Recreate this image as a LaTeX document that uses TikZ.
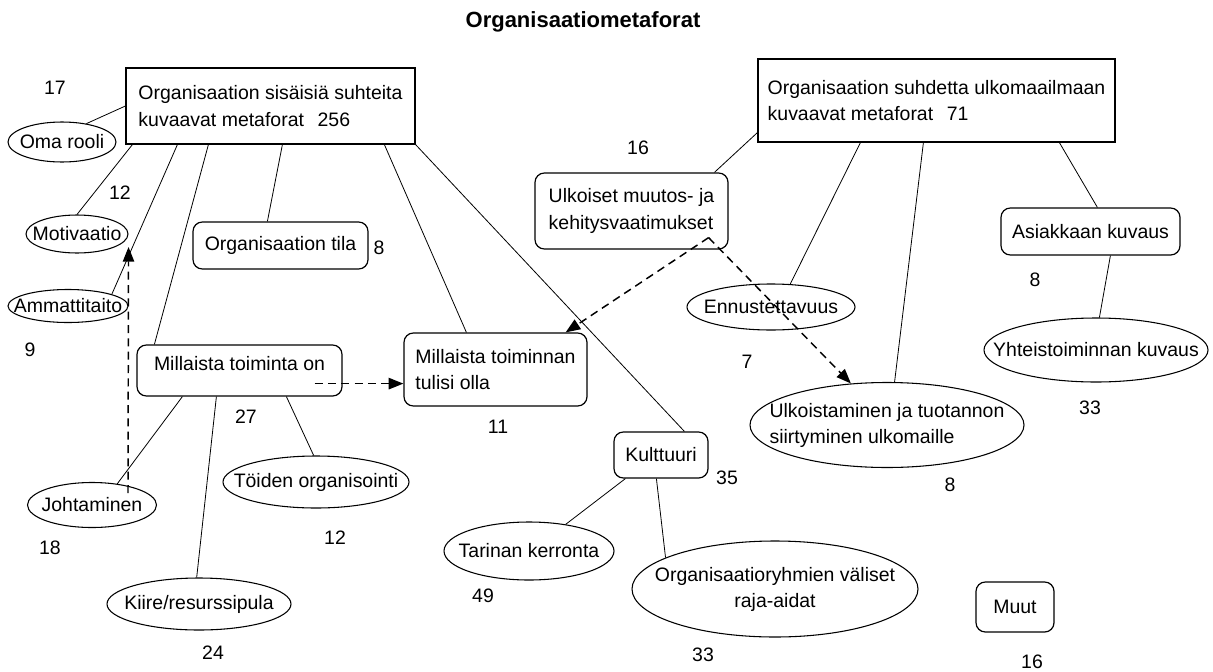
\documentclass[tikz,border=0pt]{standalone}
\usepackage{fontspec}
\setmainfont{Liberation Sans}
\usetikzlibrary{shapes.geometric, arrows.meta, calc}

\newcommand{\zw}[1]{\makebox[0pt]{#1}}

\begin{document}
\begin{tikzpicture}[x=0.75pt, y=-0.75pt,
	every node/.style={font=\fontsize{14.6pt}{20pt}\selectfont},
	sqbox/.style={draw, line width=0.9pt, inner sep=3pt},
	rbox/.style={draw, line width=0.9pt, rounded corners=7pt, inner sep=3pt},
	oval/.style={draw, ellipse, line width=0.8pt, inner sep=0pt},
	num/.style={inner sep=0pt},
	link/.style={line width=0.6pt},
	dlink/.style={line width=1.1pt, dash pattern=on 6pt off 4pt, -{Triangle[length=11pt,width=8.5pt]}}]
		
		\useasboundingbox (0,0) rectangle (1213,671);
		
		% Title
		\node[font=\fontsize{16.5pt}{20pt}\selectfont\bfseries] (title) at (583,22) {Organisaatiometaforat};
		
		% Main boxes
		\node[sqbox, minimum width=216.75pt, minimum height=57pt, align=left] (inner) at (270.5,106)
		{Organisaation sisäisiä suhteita\\kuvaavat metaforat\hspace{0.7em}256};
		\node[sqbox, minimum width=267.75pt, minimum height=62.25pt, align=left] (outer) at (936.5,100.5)
		{Organisaation suhdetta ulkomaailmaan\\kuvaavat metaforat\hspace{0.7em}71};
		
		% Inner relations
		\node[oval, minimum width=81pt, minimum height=30pt] (oma) at (62,142) {\zw{Oma rooli}};
		\node[oval, minimum width=76.5pt, minimum height=28.5pt] (motiv) at (77,234) {\zw{Motivaatio}};
		\node[oval, minimum width=90pt, minimum height=24.75pt] (ammat) at (68,306) {\zw{Ammattitaito}};
		\node[rbox, minimum width=131.25pt, minimum height=35.25pt] (tila) at (280.5,245.5) {Organisaation tila};
		\node[rbox, minimum width=153.75pt, minimum height=38.25pt, text depth=10pt] (onnyt) at (239.5,370.5) {Millaista toiminta on};
		\node[rbox, minimum width=137.25pt, minimum height=54.75pt, align=left] (pitaisi) at (495.5,369.5)
		{Millaista toiminnan\\tulisi olla};
		\node[oval, minimum width=96.75pt, minimum height=33.75pt] (johto) at (92,505) {\zw{Johtaminen}};
		\node[oval, minimum width=138pt, minimum height=39pt] (kiire) at (199,604) {\zw{Kiire/resurssipula}};
		\node[oval, minimum width=139.5pt, minimum height=39pt] (toiden) at (316,482) {\zw{Töiden organisointi}};
		\node[rbox, minimum width=70.5pt, minimum height=34.5pt] (kult) at (661,455) {Kulttuuri};
		\node[oval, minimum width=127.5pt, minimum height=43.5pt] (tarina) at (529,551) {\zw{Tarinan kerronta}};
		\node[oval, minimum width=214.5pt, minimum height=72pt] (raja) at (775,589)
		{\zw{\begin{tabular}{@{}c@{}}Organisaatioryhmien väliset\\raja-aidat\end{tabular}}};
		
		% Outer relations
		\node[rbox, minimum width=144.75pt, minimum height=57pt, align=left] (ulkoiset) at (631.5,211)
		{Ulkoiset muutos- ja\\kehitysvaatimukset};
		\node[oval, minimum width=126pt, minimum height=34.5pt] (ennust) at (771,307) {\zw{Ennustettavuus}};
		\node[oval, minimum width=205.5pt, minimum height=63.75pt] (ulkoist) at (887,425)
		{\zw{\begin{tabular}{@{}l@{}}Ulkoistaminen ja tuotannon\\siirtyminen ulkomaille\end{tabular}}};
		\node[rbox, minimum width=134.25pt, minimum height=35.25pt] (asiakas) at (1090.5,231.5) {Asiakkaan kuvaus};
		\node[oval, minimum width=168pt, minimum height=48pt] (yhteis) at (1096,350) {\zw{Yhteistoiminnan kuvaus}};
		\node[rbox, minimum width=58.5pt, minimum height=37.5pt] (muut) at (1015,607) {Muut};
		
		% Counts
		\node[num] (n-oma) at (55,88) {17};
		\node[num] (n-motiv) at (120,193) {12};
		\node[num] (n-ammat) at (30,350) {9};
		\node[num] (n-tila) at (379,248) {8};
		\node[num] (n-ulkoiset) at (638,148) {16};
		\node[num] (n-asiakas) at (1035,280) {8};
		\node[num] (n-ennust) at (747,362) {7};
		\node[num] (n-onnyt) at (246,417) {27};
		\node[num] (n-pitaisi) at (498,427) {11};
		\node[num] (n-yhteis) at (1090,408) {33};
		\node[num] (n-kult) at (727,478) {35};
		\node[num] (n-johto) at (50,548) {18};
		\node[num] (n-toiden) at (335,538) {12};
		\node[num] (n-ulkoist) at (950,485) {8};
		\node[num] (n-tarina) at (483,596) {49};
		\node[num] (n-kiire) at (213,653) {24};
		\node[num] (n-raja) at (703,655) {33};
		\node[num] (n-muut) at (1032,662) {16};
		
		% Links from the inner box
		\draw[link] (inner.west) -- (oma.37);
		\draw[link] ($(inner.south west)+(7,0)$) -- (motiv.north);
		\draw[link] ($(inner.south west)+(52,0)$) -- (ammat.15);
		\draw[link] ($(inner.south west)+(83,0)$) -- ($(onnyt.north west)+(18,0)$);
		\draw[link] ($(inner.south west)+(157,0)$) -- ($(tila.north west)+(75,0)$);
		\draw[link] ($(inner.south west)+(259,0)$) -- ($(pitaisi.north west)+(63,0)$);
		\draw[link] (inner.south east) -- ($(kult.north west)+(71,0)$);
		\draw[link] ($(onnyt.south west)+(46,0)$) -- (johto.40);
		\draw[link] ($(onnyt.south west)+(80,0)$) -- (kiire.95);
		\draw[link] ($(onnyt.south west)+(150,0)$) -- (toiden.95);
		\draw[link] ($(kult.south west)+(12,0)$) -- (tarina.36);
		\draw[link] ($(kult.south west)+(43,0)$) -- (raja.164);
		
		% Links from the outer box
		\draw[link] ($(outer.south west)+(0,-10)$) -- ($(ulkoiset.north west)+(180,0)$);
		\draw[link] ($(outer.south west)+(103,0)$) -- (ennust.50);
		\draw[link] ($(outer.south west)+(166,0)$) -- (ulkoist.80);
		\draw[link] ($(outer.south west)+(302,0)$) -- ($(asiakas.north west)+(97,0)$);
		\draw[link] ($(asiakas.south west)+(110,0)$) -- (yhteis.84);
		
		% Dashed arrows
		\draw[dlink] ($(onnyt.south east)+(-28,-13)$) -- ($(pitaisi.south west)+(0,-23)$);
		\draw[dlink] ($(ulkoiset.south east)+(-20,-12)$) -- ($(pitaisi.north east)+(-22,0)$);
		\draw[dlink] ($(ulkoiset.south east)+(-20,-12)$) -- (ulkoist.131);
		\draw[dlink] ($(johto.center)+(36,-12)$) -- ($(motiv.east)+(0,13)$);
		
	\end{tikzpicture}
\end{document}
